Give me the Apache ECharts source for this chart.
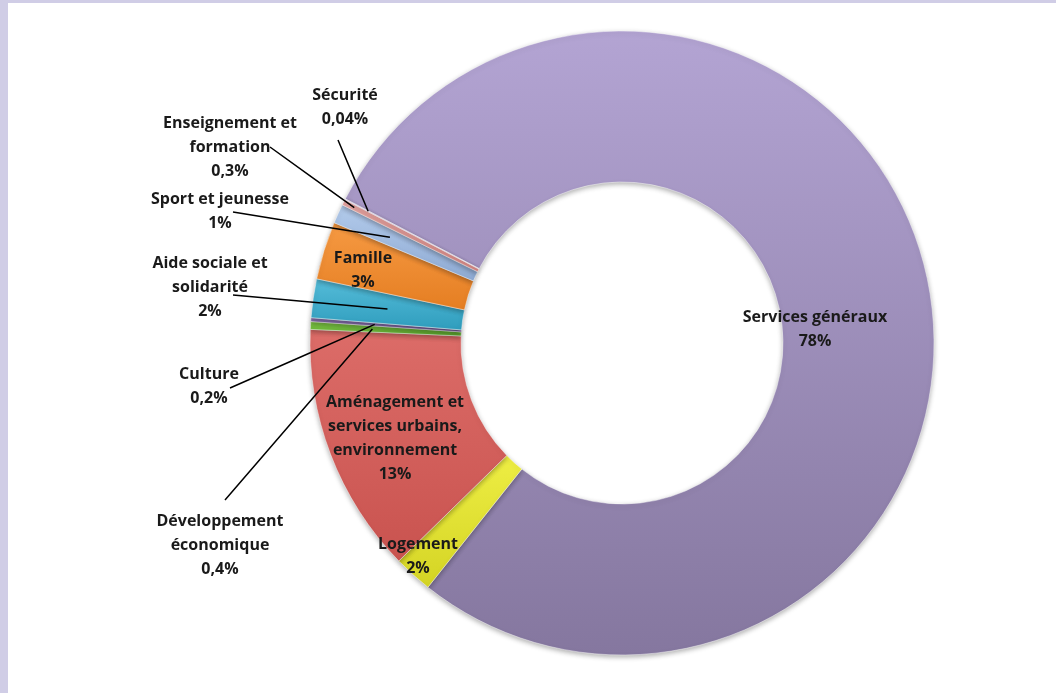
<!DOCTYPE html>
<html>
<head>
<meta charset="utf-8">
<script src="https://cdn.jsdelivr.net/npm/echarts@6/dist/echarts.min.js"></script>
<style>
  html, body { margin: 0; padding: 0; background: #d0cde6; }
  #chart { position: absolute; left: 8px; top: 3px; width: 1048px; height: 690px; background: #ffffff; }
</style>
</head>
<body>
<div id="chart"></div>
<script>
// data, in clockwise order from the upper left
const categories = ['Services généraux', 'Logement', 'Aménagement et services urbains, environnement',
  'Développement économique', 'Culture', 'Aide sociale et solidarité', 'Famille',
  'Sport et jeunesse', 'Enseignement et formation', 'Sécurité'];
const labelText = ['Services généraux', 'Logement', 'Aménagement et\nservices urbains,\nenvironnement',
  'Développement\néconomique', 'Culture', 'Aide sociale et\nsolidarité', 'Famille',
  'Sport et jeunesse', 'Enseignement et\nformation', 'Sécurité'];
const shares = [78, 2, 13, 0.4, 0.2, 2, 3, 1, 0.3, 0.04];

// styling
const colorsTop = ['#b3a4d3', '#eeee44', '#dc6c68', '#86cf4c', '#9077b8', '#55bcd9', '#f69a43', '#b3cbeb', '#eaa9a6', '#c9b6d8'];
const colorsBottom = ['#85779f', '#d4d424', '#c9534f', '#5aa72c', '#6f5592', '#2f9dbd', '#e57e22', '#8eaad3', '#d98986', '#a08fb8'];
const insideLabel = [true, true, true, false, false, false, true, false, false, false];

const center = [614, 340];
const radius = [161, 312];
const startAngle = 152.5;
// label anchor positions (chart px)
const labelPos = [[807, 326], [410, 553], [387, 435], [212, 542], [201, 383], [202, 284],
  [355, 267], [212, 208], [222, 144], [337, 104]];
// where each leader line leaves the label, and how deep it enters the ring
const lineStart = [null, null, null, [217, 497], [222, 385], [225, 292], null, [225, 209], [262, 144], [330, 137]];
const lineDepth = [0, 0, 0, 250, 248, 237, 0, 255, 300, 286];

const fmt = v => String(v).replace('.', ',') + '%';
const total = shares.reduce((a, b) => a + b, 0);

// mid angle of each slice (math degrees), same as the pie layout
const midAngle = [];
let acc = 0;
shares.forEach(v => {
  midAngle.push(startAngle - (acc + v / 2) / total * 360);
  acc += v;
});

// ring: coloured slices, no text
const ringData = categories.map((name, i) => ({
  name: name,
  value: shares[i],
  itemStyle: {
    color: {
      type: 'linear', x: 0, y: 0, x2: 0, y2: 1,
      colorStops: [{ offset: 0, color: colorsTop[i] }, { offset: 1, color: colorsBottom[i] }]
    }
  }
}));

// overlay: same slices, invisible, carrying the labels and leader lines on top
const labelData = categories.map((name, i) => ({
  name: name,
  value: shares[i],
  label: {
    show: true,
    position: insideLabel[i] ? 'inside' : 'outside',
    formatter: labelText[i] + '\n' + fmt(shares[i])
  },
  labelLine: { show: !insideLabel[i] }
}));

const chart = echarts.init(document.getElementById('chart'), null, { renderer: 'canvas' });
chart.setOption({
  animation: false,
  backgroundColor: '#ffffff',
  series: [{
    type: 'pie',
    z: 2,
    center: center,
    radius: radius,
    startAngle: startAngle,
    clockwise: true,
    silent: true,
    label: { show: false },
    labelLine: { show: false },
    itemStyle: {
      borderColor: 'rgba(255,255,255,0.45)',
      borderWidth: 1,
      shadowBlur: 5,
      shadowOffsetY: 2,
      shadowColor: 'rgba(0,0,0,0.3)'
    },
    data: ringData
  }, {
    type: 'pie',
    z: 3,
    center: center,
    radius: radius,
    startAngle: startAngle,
    clockwise: true,
    silent: true,
    avoidLabelOverlap: false,
    itemStyle: { color: 'rgba(0,0,0,0)', borderWidth: 0 },
    label: {
      fontFamily: 'Open Sans',
      fontWeight: 'bold',
      fontSize: 16,
      lineHeight: 24,
      color: '#1a1a1a',
      align: 'center'
    },
    labelLine: {
      lineStyle: { color: '#000000', width: 1.5 }
    },
    labelLayout: function (params) {
      const i = params.dataIndex;
      const out = {
        x: labelPos[i][0],
        y: labelPos[i][1],
        align: 'center',
        verticalAlign: 'middle'
      };
      if (lineStart[i]) {
        const a = midAngle[i] * Math.PI / 180;
        const t = [center[0] + Math.cos(a) * lineDepth[i], center[1] - Math.sin(a) * lineDepth[i]];
        const s = lineStart[i];
        out.labelLinePoints = [t, [(t[0] + s[0]) / 2, (t[1] + s[1]) / 2], s];
      }
      return out;
    },
    data: labelData
  }]
});
</script>
</body>
</html>
